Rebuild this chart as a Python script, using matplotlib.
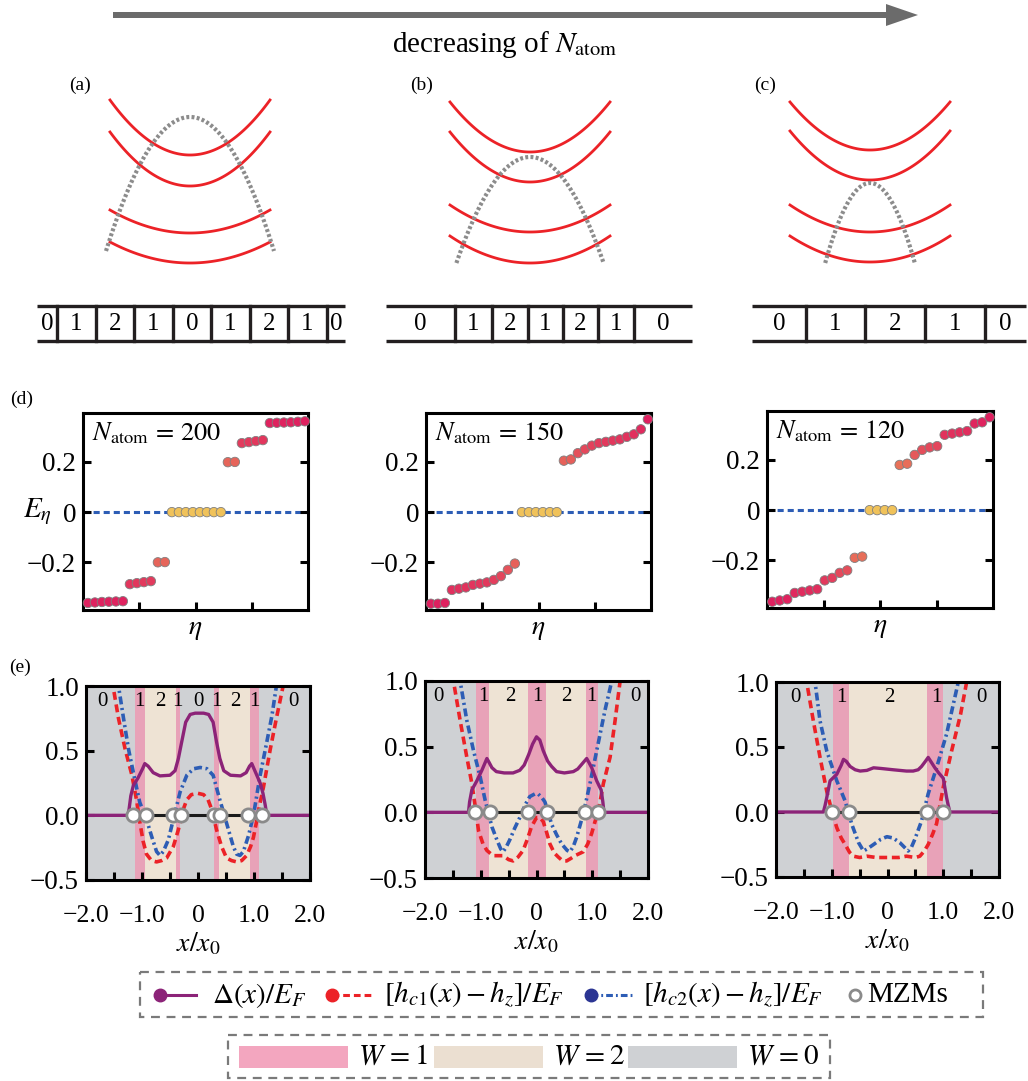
import numpy as np
import matplotlib
matplotlib.use('Agg')
import matplotlib.pyplot as plt
from matplotlib.colors import LinearSegmentedColormap, Normalize
from matplotlib.patches import Rectangle, FancyArrow

plt.rcParams['font.family'] = ['Liberation Serif', 'DejaVu Serif']
plt.rcParams['mathtext.fontset'] = 'stix'

# (a)-(c) band sketches: energy of each red band at k=0 and at k=+-1
band_bottom_a = [1.35, 1.04, 0.57, 0.27]
band_edge_a = [1.90, 1.58, 0.80, 0.48]
band_bottom_b = [1.38, 1.08, 0.58, 0.27]
band_edge_b = [1.88, 1.58, 0.85, 0.54]
band_bottom_c = [1.40, 1.10, 0.58, 0.28]
band_edge_c = [1.88, 1.59, 0.85, 0.54]
# grey dotted parabola: peak, half width, energy at the ends
gap_a = (1.73, 1.05, 0.39)
gap_b = (1.33, 0.92, 0.27)
gap_c = (1.07, 0.56, 0.27)

# winding-number strips
strip_a = ['0', '1', '2', '1', '0', '1', '2', '1', '0']
strip_a_w = [0.52, 1, 1, 1, 1, 1, 1, 1, 0.47]
strip_b = ['0', '1', '2', '1', '2', '1', '0']
strip_b_w = [1.95, 1.05, 1, 1, 1, 1, 1.65]
strip_c = ['0', '1', '2', '1', '0']
strip_c_w = [0.93, 1, 1.03, 1.03, 0.7]

# (d) eigen-energies around zero
d1_E = [-0.362, -0.360, -0.358, -0.357, -0.356, -0.355, -0.287, -0.283, -0.279, -0.275,
        -0.200, -0.199, 0, 0, 0, 0, 0, 0, 0, 0, 0.199, 0.200, 0.275, 0.279, 0.283, 0.287,
        0.355, 0.356, 0.357, 0.358, 0.360, 0.362]
d2_E = [-0.365, -0.365, -0.362, -0.310, -0.305, -0.300, -0.290, -0.285, -0.280, -0.270,
        -0.255, -0.230, -0.205, 0, 0, 0, 0, 0, 0, 0.205, 0.210, 0.235, 0.250, 0.265, 0.275,
        0.280, 0.285, 0.290, 0.300, 0.310, 0.330, 0.370]
d3_E = [-0.365, -0.360, -0.355, -0.330, -0.325, -0.320, -0.315, -0.280, -0.270, -0.250,
        -0.240, -0.190, -0.185, 0, 0, 0, 0, 0.180, 0.185, 0.220, 0.240, 0.250, 0.255, 0.300,
        0.305, 0.310, 0.315, 0.345, 0.350, 0.370]
n_atom = [200, 150, 120]

# (e) profiles, (x/x0, value)
e1_delta = [(-2.0, 0), (-1.25, 0), (-1.23, 0.05), (-1.20, 0.15), (-1.155, 0.23), (-1.07, 0.29),
            (-0.99, 0.36), (-0.95, 0.40), (-0.89, 0.38), (-0.80, 0.33), (-0.68, 0.305),
            (-0.50, 0.31), (-0.41, 0.345), (-0.35, 0.44), (-0.29, 0.57), (-0.22, 0.72),
            (-0.14, 0.78), (-0.05, 0.79), (0.10, 0.79), (0.19, 0.78), (0.27, 0.72), (0.33, 0.57),
            (0.39, 0.44), (0.46, 0.345), (0.58, 0.31), (0.76, 0.305), (0.86, 0.33), (0.92, 0.38),
            (0.96, 0.40), (1.00, 0.36), (1.05, 0.31), (1.11, 0.25), (1.16, 0.17), (1.20, 0.08),
            (1.23, 0), (2.0, 0)]
e1_hc1 = [(-1.54, 1.05), (-1.51, 0.98), (-1.42, 0.75), (-1.30, 0.51), (-1.18, 0.31), (-1.09, 0.10),
          (-1.04, -0.05), (-0.98, -0.20), (-0.92, -0.30), (-0.83, -0.35), (-0.74, -0.36),
          (-0.65, -0.35), (-0.56, -0.33), (-0.44, -0.24), (-0.35, -0.11), (-0.26, 0.05),
          (-0.20, 0.12), (-0.12, 0.16), (0.0, 0.17), (0.10, 0.16), (0.18, 0.12), (0.25, 0.04),
          (0.33, -0.11), (0.42, -0.24), (0.51, -0.33), (0.60, -0.35), (0.69, -0.36), (0.78, -0.35),
          (0.87, -0.31), (0.94, -0.24), (0.99, -0.17), (1.05, -0.04), (1.10, 0.08), (1.17, 0.22),
          (1.29, 0.51), (1.40, 0.75), (1.52, 1.0), (1.55, 1.05)]
e1_hc2 = [(-1.45, 1.05), (-1.42, 1.0), (-1.33, 0.75), (-1.24, 0.51), (-1.13, 0.28), (-1.04, 0.10),
          (-0.92, -0.03), (-0.83, -0.16), (-0.74, -0.28), (-0.68, -0.31), (-0.62, -0.28),
          (-0.53, -0.19), (-0.44, -0.03), (-0.32, 0.18), (-0.20, 0.31), (-0.08, 0.36), (0.04, 0.37),
          (0.16, 0.36), (0.27, 0.31), (0.39, 0.12), (0.51, -0.06), (0.63, -0.24), (0.69, -0.30),
          (0.75, -0.31), (0.81, -0.28), (0.90, -0.16), (0.99, 0.0), (1.11, 0.31), (1.23, 0.57),
          (1.32, 0.77), (1.40, 1.0), (1.43, 1.05)]
e1_mzm = [-1.155, -0.93, -0.45, -0.30, 0.29, 0.39, 0.90, 1.15]
e1_regions = [(-1.125, -0.946, 1), (-0.946, -0.39, 2), (-0.39, -0.32, 1),
              (0.286, 0.375, 1), (0.375, 0.93, 2), (0.93, 1.095, 1)]
e1_lab_x = [-1.7, -1.04, -0.68, -0.37, 0.0, 0.33, 0.66, 1.01, 1.7]
e1_lab = ['0', '1', '2', '1', '0', '1', '2', '1', '0']

e2_delta = [(-2.0, 0), (-1.22, 0), (-1.20, 0.08), (-1.16, 0.17), (-1.07, 0.24), (-0.98, 0.32),
            (-0.92, 0.38), (-0.89, 0.41), (-0.85, 0.38), (-0.80, 0.34), (-0.72, 0.31), (-0.58, 0.30),
            (-0.42, 0.30), (-0.30, 0.32), (-0.22, 0.36), (-0.14, 0.44), (-0.07, 0.52), (0.0, 0.575),
            (0.06, 0.55), (0.12, 0.47), (0.20, 0.39), (0.27, 0.35), (0.36, 0.31), (0.50, 0.30),
            (0.66, 0.31), (0.74, 0.33), (0.82, 0.37), (0.90, 0.41), (0.94, 0.38), (0.99, 0.34),
            (1.08, 0.24), (1.16, 0.17), (1.19, 0.08), (1.21, 0), (2.0, 0)]
e2_hc1 = [(-1.52, 1.05), (-1.49, 1.0), (-1.37, 0.70), (-1.25, 0.42), (-1.16, 0.22), (-1.10, 0.05),
          (-1.04, -0.14), (-0.96, -0.24), (-0.89, -0.29), (-0.78, -0.33), (-0.68, -0.33),
          (-0.60, -0.33), (-0.50, -0.36), (-0.42, -0.37), (-0.33, -0.34), (-0.24, -0.29),
          (-0.16, -0.20), (-0.09, -0.11), (0.0, -0.04), (0.06, -0.04), (0.12, -0.07), (0.18, -0.15),
          (0.24, -0.24), (0.32, -0.31), (0.39, -0.34), (0.47, -0.37), (0.54, -0.37), (0.62, -0.35),
          (0.69, -0.33), (0.84, -0.30), (0.92, -0.24), (0.99, -0.16), (1.05, -0.07), (1.11, 0.01),
          (1.20, 0.22), (1.32, 0.42), (1.41, 0.70), (1.50, 1.0), (1.52, 1.05)]
e2_hc2 = [(-1.40, 1.05), (-1.37, 1.0), (-1.25, 0.70), (-1.13, 0.47), (-1.01, 0.27), (-0.92, 0.09),
          (-0.80, -0.11), (-0.71, -0.21), (-0.64, -0.28), (-0.60, -0.30), (-0.55, -0.27),
          (-0.48, -0.21), (-0.39, -0.12), (-0.30, -0.04), (-0.20, 0.06), (-0.12, 0.12),
          (-0.03, 0.14), (0.03, 0.14), (0.10, 0.11), (0.15, 0.08), (0.21, 0.0), (0.27, -0.09),
          (0.36, -0.17), (0.45, -0.24), (0.55, -0.29), (0.60, -0.30), (0.66, -0.26), (0.72, -0.19),
          (0.78, -0.10), (0.84, -0.01), (0.96, 0.22), (1.08, 0.47), (1.23, 0.78), (1.35, 1.0),
          (1.38, 1.05)]
e2_mzm = [-1.10, -0.83, -0.16, 0.18, 0.87, 1.10]
e2_regions = [(-1.085, -0.85, 1), (-0.85, -0.147, 2), (-0.147, 0.17, 1),
              (0.17, 0.88, 2), (0.88, 1.10, 1)]
e2_lab_x = [-1.75, -0.96, -0.47, 0.01, 0.53, 0.99, 1.77]
e2_lab = ['0', '1', '2', '1', '2', '1', '0']

e3_delta = [(-2.0, 0), (-1.15, 0), (-1.12, 0.05), (-1.09, 0.11), (-1.03, 0.24), (-0.91, 0.29),
            (-0.83, 0.36), (-0.79, 0.405), (-0.74, 0.39), (-0.67, 0.35), (-0.58, 0.325),
            (-0.49, 0.315), (-0.37, 0.32), (-0.25, 0.34), (-0.12, 0.335), (-0.01, 0.33),
            (0.10, 0.325), (0.22, 0.32), (0.34, 0.315), (0.46, 0.315), (0.55, 0.325), (0.61, 0.35),
            (0.68, 0.39), (0.73, 0.42), (0.79, 0.38), (0.85, 0.34), (0.92, 0.30), (1.00, 0.26),
            (1.06, 0.11), (1.09, 0.05), (1.12, 0.0), (2.0, 0)]
e3_hc1 = [(-1.47, 1.05), (-1.45, 1.0), (-1.33, 0.70), (-1.21, 0.42), (-1.09, 0.16), (-1.00, 0.01),
          (-0.91, -0.12), (-0.83, -0.20), (-0.76, -0.25), (-0.68, -0.31), (-0.61, -0.34),
          (-0.50, -0.35), (-0.37, -0.34), (-0.20, -0.35), (-0.01, -0.35), (0.20, -0.35),
          (0.34, -0.34), (0.50, -0.35), (0.58, -0.34), (0.66, -0.30), (0.73, -0.25), (0.81, -0.17),
          (0.88, -0.09), (0.94, 0.05), (1.00, 0.19), (1.15, 0.47), (1.31, 0.75), (1.42, 1.0),
          (1.44, 1.05)]
e3_hc2 = [(-1.32, 1.05), (-1.30, 1.0), (-1.21, 0.70), (-1.09, 0.47), (-0.91, 0.24), (-0.76, 0.085),
          (-0.64, -0.095), (-0.52, -0.235), (-0.43, -0.30), (-0.35, -0.28), (-0.25, -0.25),
          (-0.12, -0.21), (-0.01, -0.19), (0.10, -0.20), (0.22, -0.235), (0.37, -0.30),
          (0.43, -0.27), (0.49, -0.21), (0.61, -0.07), (0.73, 0.14), (0.88, 0.34), (1.06, 0.60),
          (1.27, 1.0), (1.30, 1.05)]
e3_mzm = [-1.00, -0.69, 0.70, 1.00]
e3_regions = [(-0.97, -0.69, 1), (-0.69, 0.71, 2), (0.71, 1.0, 1)]
e3_lab_x = [-1.66, -0.82, 0.04, 0.88, 1.68]
e3_lab = ['0', '1', '2', '1', '0']

# colours
RED = '#ec2227'
PURPLE = '#8c2378'
BLUE = '#2d5db5'
W_COL = {0: '#cfd1d4', 1: '#e8a2b8', 2: '#eee3d4'}
LEG_COL = {0: '#cfd1d4', 1: '#f3a6bf', 2: '#ebdfd1'}
MZM_EDGE = '#8a8a8a'

W, H = 1028, 1081
fig = plt.figure(figsize=(W / 100, H / 100), dpi=100)


def box(x0, y0, x1, y1):
    return [x0 / W, 1 - y1 / H, (x1 - x0) / W, (y1 - y0) / H]


# overlay in pixel units for arrow, strips, legends and labels
ov = fig.add_axes([0, 0, 1, 1])
ov.set_xlim(0, W)
ov.set_ylim(H, 0)
ov.axis('off')

ov.add_patch(FancyArrow(113, 15, 805, 0, width=6, head_width=22, head_length=32,
                        length_includes_head=True, color='#6b6b6b', lw=0))
ov.text(505, 44, r'decreasing of $N_{\rm atom}$', fontsize=21, ha='center', va='center')

for lab, x, y in [('(a)', 80, 85), ('(b)', 422, 85), ('(c)', 765, 85),
                  ('(d)', 22, 399), ('(e)', 20, 667)]:
    ov.text(x, y, lab, fontsize=14, ha='center', va='center')

# band sketches
for cx, bot, edge, gap in [(190, band_bottom_a, band_edge_a, gap_a),
                           (530, band_bottom_b, band_edge_b, gap_b),
                           (870, band_bottom_c, band_edge_c, gap_c)]:
    ax = fig.add_axes(box(cx - 100, 80, cx + 100, 290))
    ax.set_xlim(-1.25, 1.25)
    ax.set_ylim(0, 2.1)
    ax.axis('off')
    k = np.linspace(-1, 1, 121)
    for b, e in zip(bot, edge):
        ax.plot(k, b + (e - b) * k ** 2, color=RED, lw=2.0)
    peak, hw, end = gap
    kg = np.linspace(-hw, hw, 121)
    ax.plot(kg, peak - (peak - end) * (kg / hw) ** 2, color='#8c8c8c', lw=3.0,
            dashes=(0.7, 0.55))

# strips
for labels, widths, x0, x1 in [(strip_a, strip_a_w, 37, 345),
                               (strip_b, strip_b_w, 386, 692),
                               (strip_c, strip_c_w, 752, 1026)]:
    y0, y1 = 306, 341
    edges = x0 + (x1 - x0) * np.concatenate([[0], np.cumsum(widths)]) / np.sum(widths)
    ov.plot([x0, x1], [y0, y0], color='#231f20', lw=2.4, solid_capstyle='butt')
    ov.plot([x0, x1], [y1, y1], color='#231f20', lw=2.4, solid_capstyle='butt')
    for xe in edges[1:-1]:
        ov.plot([xe, xe], [y0, y1], color='#231f20', lw=2.4)
    for lab, a, b in zip(labels, edges[:-1], edges[1:]):
        ov.text((a + b) / 2, (y0 + y1) / 2 + 1, lab, fontsize=18, ha='center', va='center')

# (d) spectra
cmap = LinearSegmentedColormap.from_list(
    'spec', [(0, '#f0c25a'), (0.45, '#e97a58'), (0.55, '#e6625a'), (0.76, '#e2385d'),
             (1.0, '#de1f5f')])
norm = Normalize(0, 0.37)
for i, (E, n, bx) in enumerate(zip([d1_E, d2_E, d3_E], n_atom,
                                   [(83, 413, 308, 610), (426, 413, 651, 610),
                                    (767, 411, 993, 608)])):
    ax = fig.add_axes(box(*bx))
    eta = np.arange(1, len(E) + 1)
    E = np.array(E)
    ax.axhline(0, color=BLUE, lw=2.2, dashes=(2.0, 1.3), zorder=1)
    ax.scatter(eta, E, s=46, c=np.abs(E), cmap=cmap, norm=norm, edgecolors='#808080',
               linewidths=0.6, zorder=3, clip_on=False)
    lo, hi = 1 - 0.7, len(E) + 0.45
    ax.set_xlim(lo, hi)
    ax.set_ylim(-0.39, 0.395)
    ax.set_xticks(np.linspace(lo, hi, 5)[1:-1])
    ax.set_xticklabels([])
    ax.set_yticks([-0.2, 0, 0.2])
    ax.set_yticklabels(['\u22120.2', '0', '0.2'])
    ax.tick_params(direction='in', right=True, length=6, width=2.2, labelsize=19.5, pad=5)
    for s in ax.spines.values():
        s.set_linewidth(2.2)
    ax.set_xlabel(r'$\eta$', fontsize=20, labelpad=0)
    ax.text(0.04, 0.9, r'$N_{\rm atom}\,=\,%d$' % n, transform=ax.transAxes, fontsize=19,
            ha='left', va='center')
ov.text(37, 512, r'$E_\eta$', fontsize=21, ha='center', va='center')

# (e) profiles
for dl, h1, h2, mz, reg, lx, lt, bx in [
        (e1_delta, e1_hc1, e1_hc2, e1_mzm, e1_regions, e1_lab_x, e1_lab, (86, 686, 310, 880)),
        (e2_delta, e2_hc1, e2_hc2, e2_mzm, e2_regions, e2_lab_x, e2_lab, (425, 681, 648, 878)),
        (e3_delta, e3_hc1, e3_hc2, e3_mzm, e3_regions, e3_lab_x, e3_lab, (776, 682, 999, 877))]:
    ax = fig.add_axes(box(*bx))
    ax.set_facecolor(W_COL[0])
    for a, b, w in reg:
        ax.axvspan(a, b, color=W_COL[w], lw=0, zorder=0)
    for x, t in zip(lx, lt):
        ax.text(x, 0.88, t, fontsize=15, ha='center', va='center', zorder=2)
    dl, h1, h2 = np.array(dl), np.array(h1), np.array(h2)
    ax.plot(h1[:, 0], h1[:, 1], color=RED, lw=2.6, dashes=(2.2, 1.3), zorder=3)
    ax.plot(h2[:, 0], h2[:, 1], color=BLUE, lw=2.6, dashes=(2.2, 1.0, 0.6, 1.0), zorder=3)
    ax.plot(dl[:, 0], dl[:, 1], color=PURPLE, lw=2.4, zorder=4)
    ax.plot([mz[0], mz[-1]], [0, 0], color='#1a1a1a', lw=2.2, zorder=4)
    ax.plot(mz, np.zeros(len(mz)), 'o', ms=9.5, mfc='white', mec=MZM_EDGE, mew=2.0, zorder=5)
    ax.set_xlim(-2, 2)
    ax.set_ylim(-0.5, 1.0)
    ax.set_xticks([-2, -1, 0, 1, 2])
    ax.set_xticklabels(['\u22122.0', '\u22121.0', '0', '1.0', '2.0'])
    ax.set_xticks([-1.5, -0.5, 0.5, 1.5], minor=True)
    ax.set_yticks([-0.5, 0, 0.5, 1.0])
    ax.set_yticklabels(['\u22120.5', '0.0', '0.5', '1.0'])
    ax.tick_params(which='both', direction='in', right=True, length=6, width=2.2,
                   labelsize=19.5, pad=5)
    ax.tick_params(axis='x', labelsize=18.5, pad=18)
    for s in ax.spines.values():
        s.set_linewidth(2.2)
        s.set_zorder(6)
    ax.set_xlabel(r'$x/x_0$', fontsize=20, labelpad=3)

# legends
def dashed_box(x0, y0, x1, y1):
    ov.add_patch(Rectangle((x0, y0), x1 - x0, y1 - y0, fill=False, ec='#7a7a7a', lw=1.6,
                           ls=(0, (4, 3))))


dashed_box(140, 972, 983, 1017)
ly = 995
for x_dot, col, lc, dsh, txt in [
        (160, PURPLE, PURPLE, None, r'$\Delta(x)/E_F$'),
        (332, RED, RED, (2.2, 1.3), r'$[h_{c1}(x)-h_z]/E_F$'),
        (591, '#2b3593', BLUE, (2.2, 1.0, 0.6, 1.0), r'$[h_{c2}(x)-h_z]/E_F$')]:
    if dsh is None:
        ov.plot([x_dot, x_dot + 36], [ly, ly], color=lc, lw=2.2)
    else:
        ov.plot([x_dot, x_dot + 42], [ly, ly], color=lc, lw=2.2, dashes=dsh)
    ov.plot(x_dot, ly, 'o', ms=9, color=col)
    ov.text(x_dot + 52, ly, txt, fontsize=21, ha='left', va='center')
ov.plot(855, ly, 'o', ms=8, mfc='white', mec=MZM_EDGE, mew=2.0)
ov.text(867, ly, 'MZMs', fontsize=21, ha='left', va='center')

dashed_box(228, 1035, 830, 1078)
for x0, w, txt in [(239, 1, r'$W\,=1$'), (434, 2, r'$W\,=2$'), (628, 0, r'$W\,=0$')]:
    ov.add_patch(Rectangle((x0, 1046), 109, 22, color=LEG_COL[w], lw=0))
    ov.text(x0 + 119, 1057, txt, fontsize=21, ha='left', va='center')

fig.savefig('out.png', dpi=100)
